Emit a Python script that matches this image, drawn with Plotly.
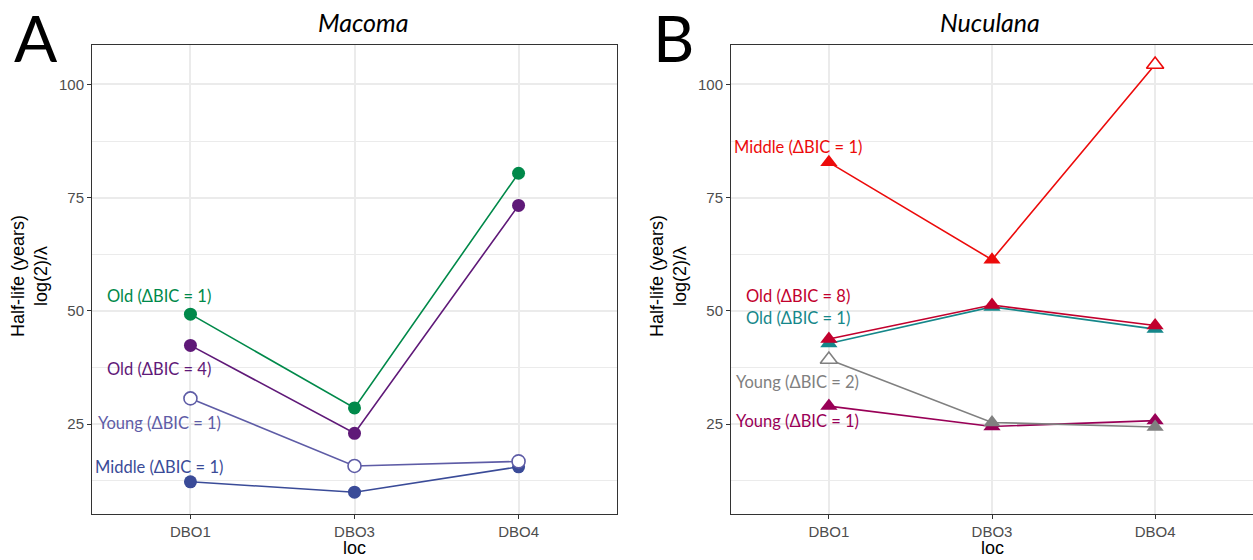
import plotly.graph_objects as go

W, H = 1253, 560

# ---------------- data ----------------
locs = ["DBO1", "DBO3", "DBO4"]

# Panel A: Macoma half-life (years)
mac_middle1 = [12.3, 10.0, 15.6]
mac_young1 = [30.7, 15.8, 16.8]
mac_old4 = [42.4, 23.0, 73.3]
mac_old1 = [49.3, 28.6, 80.4]

# Panel B: Nuculana half-life (years)
nuc_young1 = [29.0, 24.5, 25.8]
nuc_young2 = [39.3, 25.4, 24.4]
nuc_old1 = [42.8, 50.9, 46.0]
nuc_old8 = [43.8, 51.3, 46.8]
nuc_middle1 = [82.8, 61.3, 104.4]

mac_names = ["Middle (ΔBIC = 1)", "Young (ΔBIC = 1)", "Old (ΔBIC = 4)", "Old (ΔBIC = 1)"]
nuc_names = ["Young (ΔBIC = 1)", "Young (ΔBIC = 2)", "Old (ΔBIC = 1)", "Old (ΔBIC = 8)", "Middle (ΔBIC = 1)"]

# open (unfilled) points per series
mac_open = [[False] * 3, [True] * 3, [False] * 3, [False] * 3]
nuc_open = [[False] * 3, [True, False, False], [False] * 3, [False] * 3, [False, False, True]]

# label placement (data coords)
label_x = -0.19
mac_label_y = [15.5, 25.2, 37.1, 53.4]
nuc_label_y = [25.7, 34.3, 48.4, 53.2, 86.1]

mac_colors = ["#3a4b98", "#5e5ca6", "#5f1978", "#00894a"]
nuc_colors = ["#990057", "#808080", "#15878a", "#c2002d", "#ec0b0b"]

y_range = [5.3, 108.7]
y_ticks = [25, 50, 75, 100]
y_minor = [12.5, 37.5, 62.5, 87.5]


def px_x(v):
    return v / W


def px_y(v):
    return 1 - v / H


fig = go.Figure()

panels = [
    ("x", "y", [mac_middle1, mac_young1, mac_old4, mac_old1], mac_names, mac_colors, mac_open,
     mac_label_y, "circle", 13),
    ("x2", "y2", [nuc_young1, nuc_young2, nuc_old1, nuc_old8, nuc_middle1], nuc_names, nuc_colors,
     nuc_open, nuc_label_y, "triangle-up", 15),
]

for xa, ya, series, names, colors, opens, ly, sym, msize in panels:
    for vals, name, col, op, lyy in zip(series, names, colors, opens, ly):
        fig.add_trace(go.Scatter(
            x=locs, y=vals, xaxis=xa, yaxis=ya, mode="lines+markers", name=name,
            line=dict(color=col, width=1.6),
            marker=dict(symbol=sym, size=msize,
                        color=["white" if o else col for o in op],
                        line=dict(color=col, width=[1.6 if o else 0 for o in op])),
            showlegend=False, hoverinfo="x+y+name",
        ))
        fig.add_annotation(x=label_x, y=lyy, xref=xa, yref=ya, text=name, showarrow=False,
                           font=dict(family="Lato", size=16.5, color=col),
                           xanchor="center", yanchor="middle")

axis_common = dict(
    showline=True, mirror=True, linecolor="#333333", linewidth=1,
    ticks="outside", ticklen=4, tickwidth=1, tickcolor="#333333",
    tickfont=dict(family="Liberation Sans", size=15, color="#4d4d4d"),
    showgrid=True, gridcolor="#ebebeb", gridwidth=1.5, zeroline=False,
)

box_top, box_bot = 45, 513.5
fig.update_layout(
    width=W, height=H, margin=dict(l=0, r=0, t=0, b=0),
    paper_bgcolor="white", plot_bgcolor="white",
    xaxis=dict(domain=[px_x(92), px_x(617)], type="category", range=[-0.6, 2.6],
               anchor="y", **axis_common),
    yaxis=dict(domain=[px_y(box_bot), px_y(box_top)], range=y_range, tickvals=y_ticks,
               anchor="x",
               minor=dict(tickvals=y_minor, showgrid=True, gridcolor="#ebebeb", gridwidth=0.8,
                          ticks=""),
               **axis_common),
    xaxis2=dict(domain=[px_x(731), 1.0], type="category", range=[-0.6, 2.6],
                anchor="y2", **axis_common),
    yaxis2=dict(domain=[px_y(box_bot), px_y(box_top)], range=y_range, tickvals=y_ticks,
                anchor="x2",
                minor=dict(tickvals=y_minor, showgrid=True, gridcolor="#ebebeb", gridwidth=0.8,
                           ticks=""),
                **axis_common),
)

# titles, axis titles, panel letters
for cx, title in [(363, "Macoma"), (990, "Nuculana")]:
    fig.add_annotation(x=px_x(cx), y=px_y(22), xref="paper", yref="paper", text=f"<i>{title}</i>",
                       showarrow=False, font=dict(family="Lato", size=25, color="black"),
                       xanchor="center", yanchor="middle")

for cx, letter in [(36, "A"), (673, "B")]:
    fig.add_annotation(x=px_x(cx), y=px_y(38), xref="paper", yref="paper", text=letter,
                       showarrow=False, font=dict(family="Lato", size=64, color="black"),
                       xanchor="center", yanchor="middle")

for cx in [29, 668]:
    fig.add_annotation(x=px_x(cx), y=px_y(276), xref="paper", yref="paper",
                       text="Half-life (years)<br>log(2)/λ", textangle=-90, showarrow=False,
                       font=dict(family="Liberation Sans", size=18, color="black"),
                       xanchor="center", yanchor="middle")

for cx in [354.5, 992]:
    fig.add_annotation(x=px_x(cx), y=px_y(548), xref="paper", yref="paper", text="loc",
                       showarrow=False, font=dict(family="Liberation Sans", size=18, color="black"),
                       xanchor="center", yanchor="middle")

fig.write_html("out.html")
